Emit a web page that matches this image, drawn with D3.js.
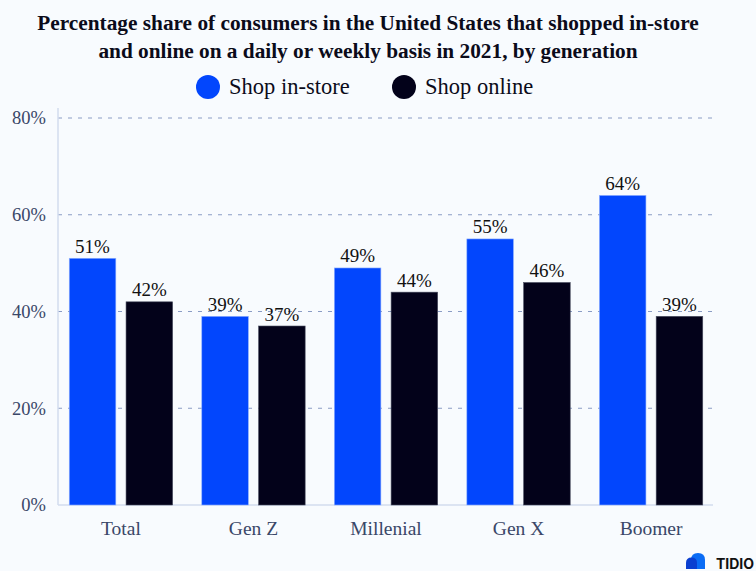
<!DOCTYPE html>
<html><head><meta charset="utf-8">
<script src="https://cdn.jsdelivr.net/npm/d3@7"></script>
<style>
html,body{margin:0;padding:0;background:#f8fbfe;}
svg{display:block;}
</style></head>
<body>
<svg id="chart" width="756" height="571"></svg>
<script>
const categories = ["Total", "Gen Z", "Millenial", "Gen X", "Boomer"];
const seriesNames = ["Shop in-store", "Shop online"];
const inStore = [51, 39, 49, 55, 64];
const online = [42, 37, 44, 46, 39];
const yTicks = [0, 20, 40, 60, 80];
const titleLines = ["Percentage share of consumers in the United States that shopped in-store",
                    "and online on a daily or weekly basis in 2021, by generation"];
const colors = ["#0246fd", "#03021a"];

(function () {
const svg = d3.select("#chart");
const W = 756, H = 571;
svg.append("rect").attr("width", W).attr("height", H).attr("fill", "#f8fbfe");

const mLeft = 58, mRight = 713, mTop = 118, mBottom = 505;
const y = d3.scaleLinear().domain([0, 80]).range([mBottom, mTop]);
const x0 = d3.scaleBand().domain(categories).range([56, 716]).paddingInner(0.22).paddingOuter(0.1);
const x1 = d3.scaleBand().domain(seriesNames).range([0, x0.bandwidth()]).paddingInner(0.18);

const serif = "'Liberation Serif', 'DejaVu Serif', serif";

// title
svg.append("g").selectAll("text").data(titleLines).join("text")
  .attr("x", 368).attr("y", (d, i) => 30 + i * 28)
  .attr("text-anchor", "middle")
  .attr("font-family", serif).attr("font-weight", "bold").attr("font-size", 21.3)
  .attr("fill", "#0b0b1a").text(d => d);

// legend
const legendX = [208, 404];
const lg = svg.append("g");
seriesNames.forEach((s, i) => {
  lg.append("circle").attr("cx", legendX[i]).attr("cy", 87).attr("r", 12).attr("fill", colors[i]);
  lg.append("text").attr("x", legendX[i] + 21).attr("y", 94)
    .attr("font-family", serif).attr("font-size", 22.5).attr("fill", "#0b0b1a").text(s);
});

// gridlines
svg.append("g").selectAll("line").data(yTicks.filter(t => t > 0)).join("line")
  .attr("x1", mLeft).attr("x2", mRight).attr("y1", d => y(d)).attr("y2", d => y(d))
  .attr("stroke", "#8a9cc4").attr("stroke-width", 1).attr("stroke-dasharray", "4,6");

// axes lines
svg.append("line").attr("x1", mLeft).attr("x2", mLeft).attr("y1", 108).attr("y2", mBottom)
  .attr("stroke", "#d3dcee").attr("stroke-width", 1.5);
svg.append("line").attr("x1", mLeft).attr("x2", mRight).attr("y1", mBottom).attr("y2", mBottom)
  .attr("stroke", "#d3dcee").attr("stroke-width", 1.5);

// y tick labels
const yAxis = d3.axisLeft(y).tickValues(yTicks).tickFormat(d => d + "%").tickSize(0).tickPadding(12);
const ya = svg.append("g").attr("transform", `translate(${mLeft},0)`).call(yAxis);
ya.select(".domain").remove();
ya.selectAll("text").attr("font-family", serif).attr("font-size", 18.5).attr("fill", "#3a4768");

// x labels
const xAxis = d3.axisBottom(x0).tickSize(0).tickPadding(16);
const xa = svg.append("g").attr("transform", `translate(0,${mBottom})`).call(xAxis);
xa.select(".domain").remove();
xa.selectAll("text").attr("font-family", serif).attr("font-size", 19.5).attr("fill", "#3a4768");

// bars
const data = categories.map((c, i) => ({cat: c, vals: [inStore[i], online[i]]}));
const groups = svg.append("g").selectAll("g").data(data).join("g")
  .attr("transform", d => `translate(${x0(d.cat)},0)`);
groups.selectAll("rect").data(d => d.vals.map((v, j) => ({s: seriesNames[j], v, j}))).join("rect")
  .attr("x", d => x1(d.s)).attr("width", x1.bandwidth())
  .attr("y", d => y(d.v)).attr("height", d => mBottom - y(d.v))
  .attr("fill", d => colors[d.j])
  .attr("stroke", d => d.j === 0 ? "#8fb0ff" : "#4a4e60").attr("stroke-width", 0.6);
groups.selectAll("text").data(d => d.vals.map((v, j) => ({s: seriesNames[j], v, j}))).join("text")
  .attr("x", d => x1(d.s) + x1.bandwidth() / 2).attr("y", d => y(d.v) - 5.5)
  .attr("text-anchor", "middle").attr("font-family", serif).attr("font-size", 19)
  .attr("fill", "#111").text(d => d.v + "%");

// logo
const logo = svg.append("g").attr("transform", "translate(686,553)");
logo.append("path").attr("d", "M5,16 L5,7 Q5,0 12,0 Q19,0 19,7 L19,16 Z").attr("fill", "#0a6cf5");
logo.append("path").attr("d", "M0,16 L0,10 Q0,4.5 5.5,4.5 Q11,4.5 11,10 L11,16 Z").attr("fill", "#0a3fd0");
logo.append("text").attr("x", 68).attr("y", 15.5).attr("text-anchor", "end")
  .attr("font-family", "Inter, 'Open Sans', sans-serif")
  .attr("font-weight", "bold").attr("font-size", 14).attr("fill", "#111").text("TIDIO");
})();
</script>
</body></html>
